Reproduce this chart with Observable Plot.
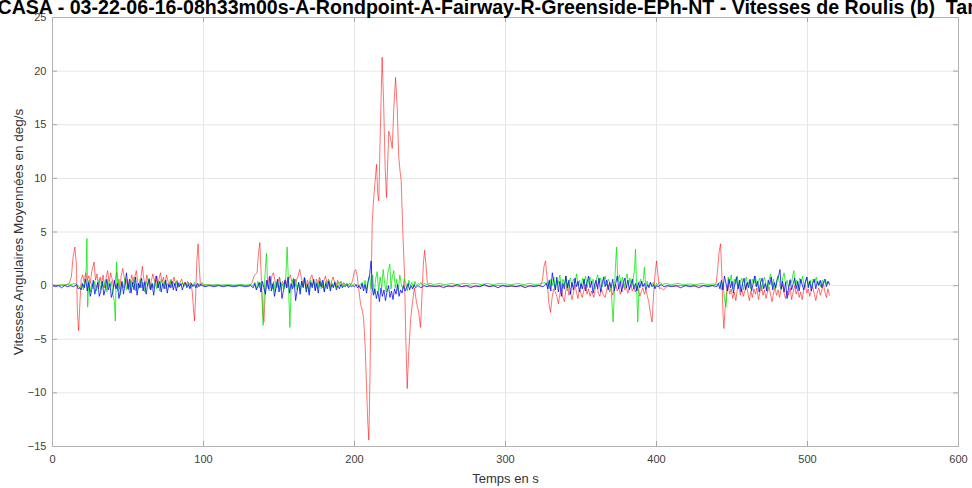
<!DOCTYPE html>
<html>
<head>
<meta charset="utf-8">
<script src="https://cdn.jsdelivr.net/npm/d3@7"></script>
<script src="https://cdn.jsdelivr.net/npm/@observablehq/plot@0.6"></script>
<style>
  html, body { margin: 0; padding: 0; background: #fff; }
  #chart { width: 972px; height: 488px; overflow: hidden; }
</style>
</head>
<body>
<div id="chart"></div>
<script>
const titleText = "CASA - 03-22-06-16-08h33m00s-A-Rondpoint-A-Fairway-R-Greenside-EPh-NT - Vitesses de Roulis (b)  Tangage (v)  Lacet (r)";
const xLabel = "Temps en s";
const yLabel = "Vitesses Angulaires Moyennées en deg/s";
const xTicks = [0, 100, 200, 300, 400, 500, 600];
const yTicks = [-15, -10, -5, 0, 5, 10, 15, 20, 25];

const red = [[0,0],[3,0.05],[6,0],[9,0.1],[11,0.2],[12.5,0.8],[13.5,2.5],[14.8,3.6],[15.8,2.0],[16.5,-2.5],[17.3,-4.2],[18.2,-1.5],[19,0.6],[20,1.0],[21,0.3],[22,1.2],[23,0.5],[24,0.9],[25,0.2],[26,1.3],[27.5,2.2],[28.5,0.5],[29.5,1.1],[30.5,-0.3],[31.5,0.8],[32.5,0.2],[33.5,1.0],[34.5,-0.2],[35.5,0.7],[36.5,1.4],[37.5,0.3],[38.5,1.2],[39.5,0.6],[40.5,-0.1],[41.5,0.5],[42.5,1.3],[43.5,0.4],[44.5,-0.3],[45.5,0.9],[46.5,1.6],[47.5,0.8],[48.5,0.1],[49.5,0.6],[50.5,-0.4],[51.5,0.3],[52.5,1.0],[53.5,0.2],[54.5,0.8],[55.5,1.4],[56.5,0.3],[57.5,-0.2],[58.5,0.7],[59.5,1.8],[60.5,0.6],[61.5,0.1],[62.5,1.0],[63.5,0.3],[64.5,-0.3],[65.5,0.5],[66.5,1.1],[67.5,0.4],[68.5,0.9],[69.5,-0.2],[70.5,0.6],[71.5,1.2],[72.5,0.3],[73.5,0.8],[74.5,0.1],[75.5,1.0],[76.5,0.4],[77.5,-0.1],[78.5,0.6],[79.5,0.2],[80.5,0.8],[81.5,0.1],[82.5,0.5],[83.5,-0.1],[84.5,0.3],[85.5,0.6],[86.5,0.1],[87.5,0.3],[88.5,0.0],[89.5,0.4],[90.5,0.1],[91.5,0.3],[92.5,-0.5],[93.3,-2.0],[94,-3.3],[94.8,-1.0],[95.5,2.0],[96.4,3.9],[97.3,1.5],[98,0.0],[99,0.2],[100,0],[103,0.1],[106,0],[110,0.05],[115,0],[120,0],[125,0.05],[130,0],[132,0.2],[133.5,0.9],[134.6,1.1],[135.5,1.2],[136.4,3.0],[137.3,4.0],[138.2,1.0],[139.2,-2.5],[140,-3.4],[140.8,-1.0],[141.6,0.5],[142.5,0.2],[143.5,0.8],[144.5,0.4],[145.5,1.0],[146.3,1.2],[147.3,0.5],[148.3,-0.2],[149.3,0.3],[150.3,0.8],[151.3,-0.1],[152.3,0.4],[153.3,0.1],[154.3,0.6],[155.3,-0.2],[156.3,0.5],[157.6,1.0],[158.6,0.3],[159.6,0.7],[160.6,-0.1],[161.6,0.5],[162.6,0.9],[163.8,1.5],[164.8,0.7],[165.8,0.2],[166.8,0.8],[167.8,-0.2],[168.8,0.5],[169.8,0.1],[170.8,0.7],[171.8,1.0],[172.8,0.3],[173.8,-0.1],[174.8,0.6],[175.8,0.2],[176.8,0.8],[177.8,0.4],[178.8,-0.2],[179.8,0.5],[180.8,0.9],[181.8,0.2],[182.8,0.6],[183.8,-0.1],[184.8,0.4],[185.8,0.8],[186.8,0.3],[187.8,-0.1],[188.8,0.5],[189.8,0.2],[190.8,0.4],[191.8,0.0],[192.8,0.3],[193.8,0.1],[194.8,0.2],[195.8,0.0],[196.8,0.2],[197.8,0.1],[198.8,0.5],[199.8,1.3],[200.8,1.5],[201.8,0.9],[202.8,-0.3],[204,-1.7],[205,-2.2],[206,-3.0],[207,-5.5],[208,-9.5],[208.8,-12.8],[209.5,-14.4],[210.3,-8.0],[211,-0.5],[211.7,5.8],[212.6,7.9],[213.5,9.5],[214.6,11.3],[215.4,8.5],[216.1,7.9],[217.1,14.5],[218.3,21.3],[219.3,17.0],[220.3,11.0],[221.2,8.2],[222.0,11.5],[222.7,14.4],[223.8,13.8],[225,12.8],[226,16.5],[227.2,19.4],[228.3,16.5],[229.3,12.0],[230.3,10.5],[230.9,9.8],[232,5.0],[233.1,1.1],[234,-5.0],[234.9,-9.6],[235.8,-6.5],[237.1,-3.3],[238.4,-1.5],[239.7,-0.2],[241,-1.5],[242.5,-2.5],[243.7,-3.9],[244.8,-0.5],[245.6,2.0],[246.4,3.3],[247.3,2.0],[248.2,0.3],[249.2,0.0],[250,-0.1],[252,0.0],[255,-0.1],[258,0.0],[262,-0.1],[266,0.0],[270,-0.1],[275,0.0],[280,-0.1],[285,0.0],[290,-0.05],[295,0],[300,0.0],[305,-0.1],[310,0],[315,-0.05],[320,0],[323,0.0],[324.5,0.5],[325.5,1.8],[326.5,2.3],[327.5,0.8],[328.6,-1.5],[329.8,-2.5],[330.8,-1.2],[331.8,-0.3],[333,-0.6],[334,-1.0],[335,-1.7],[336,-0.8],[337,-0.2],[338,-1.1],[339,-1.5],[340,-0.4],[341,0.2],[342,-0.9],[343,-0.5],[344,-1.3],[345,-0.7],[346,0.1],[347,-0.6],[348,-1.2],[349,-0.3],[350.8,-1.1],[352,-0.4],[353,0.1],[354,-0.8],[355,-0.3],[356,-1.0],[357,-0.5],[358.5,-1.1],[359.5,-0.2],[360.5,0.2],[361.5,-0.7],[362.5,-1.0],[363.5,-0.3],[364.5,-0.8],[366,-1.1],[367,-0.4],[368,0.1],[369,-0.6],[370,-0.2],[371,-0.9],[372,-0.4],[373,0.1],[374,-0.5],[375,-0.2],[376,-0.8],[377,-0.3],[378,0.2],[379,-0.4],[380,-0.1],[381,-0.7],[382,-0.3],[383,0.1],[384,-0.5],[385,-0.2],[386,-0.6],[387,0.0],[388,-0.4],[389,-1.0],[390,-0.5],[391,-0.2],[392,-0.8],[393,-0.4],[394,-1.0],[395,-1.6],[396,-2.6],[397.1,-3.4],[398,-1.0],[399,1.0],[400,2.3],[401,1.0],[402,-0.3],[403,-0.2],[404.5,-0.4],[406,-0.2],[408,0],[412,-0.05],[416,0],[420,0],[425,-0.05],[430,0],[435,0],[438,0.0],[439.5,0.2],[440.5,1.5],[441.5,3.2],[442.4,3.9],[443.3,1.0],[444,-2.5],[444.6,-4.0],[445.5,-2.0],[446.5,-0.5],[447.5,0.1],[448.5,-0.8],[449.5,-0.3],[450.5,-1.2],[451.5,-0.6],[452.5,-1.4],[453.5,-0.4],[454.5,0.0],[455.5,-0.9],[456.5,-0.3],[457.5,-1.0],[458.5,-0.5],[459.5,0.1],[460.5,-0.7],[461.5,-1.4],[462.5,-0.5],[463.5,-1.1],[464.5,-0.3],[465.5,-0.8],[466.5,-0.2],[467.5,-1.3],[468.5,-0.6],[469.5,0.0],[470.5,-0.9],[471.5,-0.4],[472.5,-1.2],[473.5,-0.6],[474.5,-0.1],[475.5,-0.8],[476.5,-1.5],[477.5,-0.7],[478.5,-0.2],[479.5,-0.9],[480.5,-0.4],[481.5,-1.1],[482.5,-0.3],[483.5,0.1],[484.5,-0.7],[485.5,-1.2],[486.5,-0.5],[487.5,-0.9],[488.5,-0.2],[489.5,-1.3],[490.5,-0.6],[491.5,0.0],[492.5,-0.8],[493.5,-0.3],[494.5,-1.1],[495.5,-0.6],[496.5,-1.3],[497.5,-0.4],[498.5,0.1],[499.5,-0.7],[500.5,-0.3],[501.5,-1.0],[502.5,-0.5],[503.5,-0.1],[504.5,-0.8],[505.5,-1.4],[506.5,-0.6],[507.5,-0.2],[508.5,-0.9],[509.5,-0.4],[510.5,0.2],[511.5,-0.6],[512.5,-1.1],[513.5,-0.3],[514.5,-0.9]];

const green = [[0,0.1],[3,0.0],[6,0.1],[9,0.05],[12,0.1],[15,0.2],[17,0.0],[18.5,-0.3],[19.5,0.2],[20.5,-0.4],[21.5,0.3],[22.3,1.5],[22.8,4.4],[23.3,-2.0],[24,0.5],[25,-0.6],[26,0.2],[27,-0.3],[28,0.4],[29,-0.5],[30,0.1],[31,0.6],[32,-0.4],[33,0.2],[34,-0.2],[35,0.5],[36,-0.6],[37,0.3],[38,-0.1],[39,0.4],[40,-0.8],[41,-1.5],[41.6,-3.3],[42.4,2.2],[43.2,-0.5],[44,0.6],[45,-0.9],[46,0.3],[47,-0.2],[48,0.7],[49,-0.4],[50,0.2],[51,-0.7],[52,0.5],[53,-0.1],[54,0.8],[55,-0.5],[56,0.2],[57,-0.3],[58,0.6],[59,-0.2],[60,0.3],[61,-0.6],[62,0.4],[63,0.0],[64,0.7],[65,-0.4],[66,0.2],[67,-0.2],[68,0.5],[69,-0.3],[70,0.3],[71,-0.5],[72,0.6],[73,0.0],[74,0.4],[75,-0.3],[76,0.2],[77,-0.1],[78,0.5],[79,-0.2],[80,0.3],[81,0.0],[82,0.4],[83,-0.2],[84,0.2],[85,0.0],[86,0.3],[87,-0.1],[88,0.2],[89,0.0],[90,0.3],[91,-0.2],[92,0.2],[93,0.0],[94,0.3],[95,0.1],[96,-0.2],[97,0.2],[98,0.0],[99,0.3],[100,0.1],[104,0.05],[108,0.1],[112,0.05],[116,0.1],[120,0.05],[124,0.1],[128,0.05],[131,0.1],[133,0.0],[134,0.3],[135,-0.3],[136,0.4],[137,-0.2],[138,0.3],[138.8,-1.0],[139.5,-3.7],[140.5,0.5],[141.7,3.0],[142.5,0.2],[143.5,-0.5],[144.5,0.6],[145.5,-0.3],[146.5,0.4],[147.5,-0.6],[148.5,0.3],[149.5,-0.2],[150.5,0.7],[151.5,-0.4],[152.5,0.2],[153.5,-0.3],[154.5,0.8],[155.4,3.6],[156.2,0.5],[157.2,-3.9],[158,-0.5],[159,0.5],[160,-0.2],[161,0.6],[162,-0.4],[163,0.3],[164,-0.5],[165,0.4],[166,-0.1],[167,0.7],[168,-0.3],[169,0.2],[170,-0.6],[171,0.5],[172,0.0],[173,0.4],[174,-0.4],[175,0.3],[176,-0.2],[177,0.6],[178,-0.3],[179,0.2],[180,-0.5],[181,0.4],[182,0.0],[183,0.5],[184,-0.3],[185,0.3],[186,-0.1],[187,0.4],[188,-0.2],[189,0.3],[190,0.0],[191,0.4],[192,-0.1],[193,0.2],[194,0.0],[195,0.2],[196,0.1],[197,0.2],[198,0.0],[199,0.1],[200,0.2],[201,0.0],[202,0.1],[203,0.0],[204,0.1],[205,0.3],[206,-0.2],[207,0.5],[208,-0.4],[209,0.3],[210,0.9],[211,-0.3],[212,1.0],[213,-0.8],[214,0.6],[215,1.3],[216,-0.5],[217,0.8],[218,-0.2],[219,1.5],[220,0.2],[221,-0.6],[222,1.1],[223.4,2.0],[224.2,-0.3],[225,0.8],[226,1.4],[227,-0.2],[228,0.6],[229,-0.5],[230,1.0],[231,0.1],[232,-0.3],[233,0.7],[234,0.2],[235,-0.5],[236,0.5],[237,0.0],[238,0.3],[239,-0.2],[240,0.4],[241,0.0],[242,0.2],[243,0.1],[244,0.3],[245,0.0],[246,0.2],[248,0.1],[250,0.2],[253,0.1],[256,0.2],[260,0.1],[264,0.2],[268,0.1],[272,0.2],[276,0.15],[280,0.2],[284,0.1],[288,0.2],[292,0.1],[296,0.2],[300,0.15],[304,0.1],[308,0.2],[312,0.1],[316,0.2],[320,0.1],[324,0.2],[326,0.3],[327,0.1],[328,0.4],[329,-0.3],[330,0.6],[331,0.0],[332,0.8],[333,-0.4],[334,0.5],[335,0.2],[336,1.0],[337,-0.2],[338,0.6],[339,0.1],[340,0.9],[341,-0.5],[342,0.4],[343,0.7],[344,-0.1],[345,0.6],[346,0.2],[347,1.1],[348,0.0],[349,0.5],[350,-0.3],[351,0.7],[352,0.2],[353,0.9],[354,-0.2],[355,0.4],[356,0.8],[357,0.1],[358,0.6],[359,-0.3],[360,0.5],[361,1.0],[362,0.2],[363,0.7],[364,-0.1],[365,0.5],[366,0.9],[367,0.0],[368,0.6],[369,0.3],[370,-0.5],[371.3,-3.4],[372.4,0.5],[373.5,3.6],[374.4,0.4],[375.5,1.0],[376.5,0.2],[377.5,0.8],[378.5,-0.2],[379.5,0.6],[380.5,1.1],[381.5,0.1],[382.5,0.7],[383.5,-0.1],[384.5,0.5],[385.4,1.5],[386.1,3.4],[386.8,0.0],[387.6,-3.4],[388.5,0.2],[389.5,0.6],[390.5,0.0],[391.2,0.5],[392,1.7],[392.8,0.0],[393.8,0.4],[394.8,-0.1],[395.8,0.3],[397,0.1],[398,0.3],[399,-0.2],[400,0.2],[401,0.1],[402,0.3],[404,0.1],[406,0.2],[410,0.1],[414,0.2],[418,0.1],[422,0.15],[426,0.1],[430,0.2],[434,0.1],[438,0.15],[440,0.1],[442,0.3],[443,-0.4],[444,0.3],[445,-1.2],[446,-2.0],[446.8,-0.5],[447.5,0.8],[448.5,0.2],[449.5,1.0],[450.5,-0.3],[451.5,0.6],[452.5,0.1],[453.5,0.9],[454.5,-0.2],[455.5,0.4],[456.5,0.7],[457.5,-0.4],[458.5,0.3],[459.5,0.8],[460.5,0.0],[461.5,0.5],[462.5,-0.3],[463.5,0.6],[464.5,0.2],[465.5,0.9],[466.5,-0.1],[467.5,0.4],[468.5,0.7],[469.5,-0.5],[470.5,0.3],[471.5,0.8],[472.5,0.1],[473.5,-0.6],[474.5,0.5],[475.5,1.1],[476.5,0.0],[477.5,0.6],[478.5,-0.3],[479.5,0.4],[480.5,0.9],[481.5,0.2],[482.5,-0.4],[483.5,0.7],[484.5,1.2],[485.5,0.1],[486.5,0.5],[487.5,-0.2],[488.5,0.6],[489.5,0.3],[490.3,1.0],[491,1.4],[491.8,0.0],[492.8,0.5],[493.8,-0.3],[494.8,0.7],[495.8,0.2],[496.8,0.9],[497.8,-0.1],[498.8,0.4],[499.8,0.8],[500.8,0.0],[501.8,0.5],[502.8,-0.2],[503.8,0.6],[504.8,0.3],[505.8,0.8],[506.8,0.1],[507.8,0.4],[508.8,-0.1],[509.8,0.5],[510.8,0.2],[511.8,0.6],[512.8,0.1],[513.8,0.4],[514.8,0.2]];

const blue = [[0,0.0],[2,-0.1],[4,0.0],[6,-0.2],[8,0.0],[10,-0.1],[12,0.0],[14,-0.1],[16,0.1],[17,-0.3],[18,-0.2],[19,-0.4],[20,0.2],[21,-0.2],[22,0.6],[23,-0.5],[24,0.3],[25,-1.0],[26,-0.4],[27,0.5],[28,-0.8],[29,-0.2],[30,0.3],[31,-1.0],[32,-0.5],[33,0.4],[34,-0.9],[35,-0.3],[36,0.6],[37,-0.4],[38,0.2],[39,-1.1],[40,-0.6],[41,0.5],[42,-0.3],[43,0.2],[44,-1.2],[45,-0.5],[46,0.4],[47,-0.8],[48,0.1],[49,1.2],[50,-0.3],[51,0.6],[52,-0.7],[53,0.3],[54,-0.4],[55,0.8],[56,-0.9],[57,0.2],[58,-0.2],[59,0.7],[60,-0.5],[61,0.3],[62,-0.8],[63,0.1],[64,0.6],[65,-0.4],[66,0.2],[67,-0.9],[68,0.3],[69,0.9],[70,-0.2],[71,0.4],[72,-0.6],[73,0.2],[74,-0.3],[75,0.5],[76,-0.7],[77,0.1],[78,-0.2],[79,0.4],[80,-0.4],[81,0.2],[82,-0.5],[83,0.3],[84,-0.1],[85,0.2],[86,-0.4],[87,0.1],[88,0.3],[89,-0.2],[90,0.1],[91,-0.3],[92,0.2],[93,-0.1],[94,0.1],[95,-0.2],[96,0.2],[97,-0.1],[98,0.1],[99,0.0],[101,-0.1],[104,0.0],[107,-0.1],[110,0.0],[113,-0.1],[116,0.0],[120,-0.1],[124,0.0],[128,-0.1],[131,0.0],[133,-0.2],[134,0.2],[135,-0.4],[136,-0.1],[137,0.3],[138,-0.6],[139,0.4],[140,-0.2],[141,-0.8],[142,0.5],[143,-0.3],[144,0.9],[145,-0.5],[146,0.2],[147,-1.0],[148,-0.2],[149,0.6],[150,-0.6],[151,0.3],[152,-1.2],[153,-0.4],[154,0.5],[155,-0.2],[156,0.8],[157,-0.7],[158,0.2],[159,-0.3],[160,0.6],[161,-1.4],[162,-0.5],[163,0.3],[164,-0.8],[165,0.4],[166,-0.2],[167,0.7],[168,-0.6],[169,0.1],[170,-0.9],[171,0.3],[172,-0.2],[173,0.6],[174,-0.5],[175,0.2],[176,-0.7],[177,0.4],[178,-0.1],[179,0.5],[180,-0.6],[181,0.2],[182,-0.3],[183,0.4],[184,-0.5],[185,0.1],[186,-0.2],[187,0.3],[188,-0.4],[189,0.0],[190,-0.3],[191,0.1],[192,-0.2],[193,0.0],[194,-0.1],[195,0.1],[196,-0.2],[197,0.0],[198,-0.1],[199,0.0],[200,-0.1],[201,0.1],[202,-0.2],[203,0.0],[204,-0.3],[205,0.2],[206,-0.5],[207,0.1],[208,-0.7],[209,0.4],[210,1.0],[211,2.3],[211.8,-0.2],[212.5,-0.9],[213.5,-0.3],[214.5,-1.2],[215.5,-0.5],[216.5,-1.5],[217.5,-0.2],[218.5,-1.0],[219.5,-0.4],[220.5,-1.4],[221.5,-0.6],[222.5,0.0],[223.5,-1.1],[224.5,-0.5],[225.5,-1.3],[226.5,-0.3],[227.5,-0.8],[228.5,0.1],[229.5,-1.0],[230.5,-0.4],[231.5,-0.7],[232.5,0.0],[233.5,-0.5],[234.5,-0.2],[235.5,0.2],[236.5,-0.4],[237.5,0.0],[238.5,-0.3],[239.5,0.1],[240.5,-0.2],[242,0.0],[244,-0.2],[246,0.0],[248,-0.1],[250,0.0],[253,-0.1],[256,0.0],[259,-0.2],[262,0.0],[265,-0.1],[268,0.1],[271,-0.1],[274,0.0],[277,-0.2],[280,0.0],[283,-0.1],[286,0.1],[289,-0.1],[292,0.0],[295,-0.2],[298,0.0],[301,-0.1],[304,0.0],[307,-0.1],[310,0.0],[313,-0.2],[316,0.0],[319,-0.1],[322,0.0],[325,-0.1],[327,0.2],[328,-0.3],[329,0.5],[330,-0.5],[331,1.2],[332,0.3],[333,-0.4],[334,0.8],[335,-0.6],[336,0.4],[337,-1.0],[338,0.2],[339,-0.3],[340,0.9],[341,-0.2],[342,0.5],[343,-0.8],[344,0.3],[345,-0.4],[346,0.7],[347,-0.1],[348,0.4],[349,-0.6],[350,0.2],[351,-0.3],[352,0.6],[353,-0.5],[354,0.3],[355,0.9],[356,-0.2],[357,0.4],[358,-0.7],[359,0.1],[360,0.5],[361,-0.3],[362,0.7],[363,-0.6],[364,0.2],[365,0.8],[366,-0.1],[367,0.5],[368,-0.4],[369,0.3],[370,-0.2],[371,0.6],[372,-0.5],[373,0.2],[374,0.9],[375,-0.3],[376,0.4],[377,-0.6],[378,0.3],[379,0.7],[380,-0.2],[381,0.5],[382,-0.4],[383,0.1],[384,0.6],[385,-0.3],[386,0.2],[387,-0.5],[388,0.3],[389,-0.2],[390,0.4],[391,-0.1],[392,0.2],[393,-0.4],[394,0.1],[395,-0.2],[396,0.3],[397,-0.1],[398,0.1],[399,-0.3],[400,0.0],[401,-0.1],[403,0.1],[405,-0.1],[407,0.0],[410,-0.1],[413,0.0],[416,-0.2],[419,0.0],[422,-0.1],[425,0.0],[428,-0.2],[431,0.0],[434,-0.1],[437,0.0],[440,-0.1],[441,0.2],[442,-0.3],[443,0.5],[444,-0.4],[445,0.9],[446,0.2],[447,-0.5],[448,0.6],[449,-0.2],[450,0.4],[451,-0.7],[452,0.3],[453,0.8],[454,-0.3],[455,0.5],[456,-0.6],[457,0.2],[458,0.7],[459,-0.4],[460,0.3],[461,-0.2],[462,0.6],[463,-0.5],[464,0.2],[465,0.9],[466,-0.1],[467,0.4],[468,-0.6],[469,0.3],[470,0.7],[471,-0.3],[472,0.2],[473,-0.5],[474,0.5],[475,0.1],[476,0.8],[477,-0.4],[478,0.3],[479,-0.2],[480,0.6],[481,1.0],[481.8,1.5],[482.6,-0.3],[483.5,0.4],[484.5,-0.6],[485.5,0.3],[486.5,-1.2],[487.5,-0.2],[488.5,0.5],[489.5,-0.4],[490.5,0.2],[491.5,0.7],[492.5,-0.3],[493.5,0.4],[494.5,-0.5],[495.5,0.6],[496.5,0.1],[497.5,-0.4],[498.5,0.3],[499.5,0.8],[500.5,-0.2],[501.5,0.4],[502.5,-0.5],[503.5,0.2],[504.5,0.6],[505.5,-0.3],[506.5,0.4],[507.5,0.0],[508.5,0.5],[509.5,-0.2],[510.5,0.3],[511.5,0.6],[512.5,-0.1],[513.5,0.4],[514.5,0.1]];

const W = 972, H = 488;
const mL = 52, mR = 14, mT = 17, mB = 42;
const fw = W - mL - mR, fh = H - mT - mB;
const tickLen = 5;

const chart = Plot.plot({
  width: W,
  height: H,
  marginLeft: mL,
  marginRight: mR,
  marginTop: mT,
  marginBottom: mB,
  style: { fontFamily: "'Liberation Sans', Arial, sans-serif", background: "#fff", overflow: "visible" },
  x: { domain: [0, 600], ticks: xTicks, tickSize: 0, tickPadding: 9, label: null },
  y: { domain: [-15, 25], ticks: yTicks, tickSize: 0, tickPadding: 6, label: null },
  marks: [
    Plot.gridX(xTicks, { stroke: "#e6e6e6", strokeOpacity: 1 }),
    Plot.gridY(yTicks, { stroke: "#e6e6e6", strokeOpacity: 1 }),
    Plot.ruleX(xTicks, { insetTop: fh - tickLen, stroke: "#a6a6a6" }),
    Plot.ruleX(xTicks, { insetBottom: fh - tickLen, stroke: "#a6a6a6" }),
    Plot.ruleY(yTicks, { insetRight: fw - tickLen, stroke: "#a6a6a6" }),
    Plot.ruleY(yTicks, { insetLeft: fw - tickLen, stroke: "#a6a6a6" }),
    Plot.line(red, { x: d => d[0], y: d => d[1], stroke: "#ff0000", strokeWidth: 1, strokeOpacity: 0.55 }),
    Plot.line(green, { x: d => d[0], y: d => d[1], stroke: "#00e600", strokeWidth: 1, strokeOpacity: 0.75 }),
    Plot.line(blue, { x: d => d[0], y: d => d[1], stroke: "#0000ff", strokeWidth: 1, strokeOpacity: 0.75 }),
    Plot.frame({ stroke: "#b3b3b3" }),
    Plot.axisX(xTicks, { tickSize: 0, tickPadding: 9, fontSize: 11, fill: "#404040", label: null }),
    Plot.axisY(yTicks, { tickSize: 0, tickPadding: 6, fontSize: 11, fill: "#404040", label: null }),
    Plot.text([xLabel], { frameAnchor: "bottom", dy: 32, fontSize: 13, fill: "#333", lineAnchor: "middle" }),
    Plot.text([yLabel], { frameAnchor: "left", dx: -34, rotate: -90, textAnchor: "middle", fontSize: 13.5, fill: "#333", lineAnchor: "middle" }),
    Plot.text([titleText], { frameAnchor: "top-left", dx: -mL - 3, dy: -9.3, textAnchor: "start", lineAnchor: "middle", fontSize: 19.6, fontWeight: "bold", fill: "#000" })
  ]
});
document.getElementById("chart").appendChild(chart);
</script>
</body>
</html>
